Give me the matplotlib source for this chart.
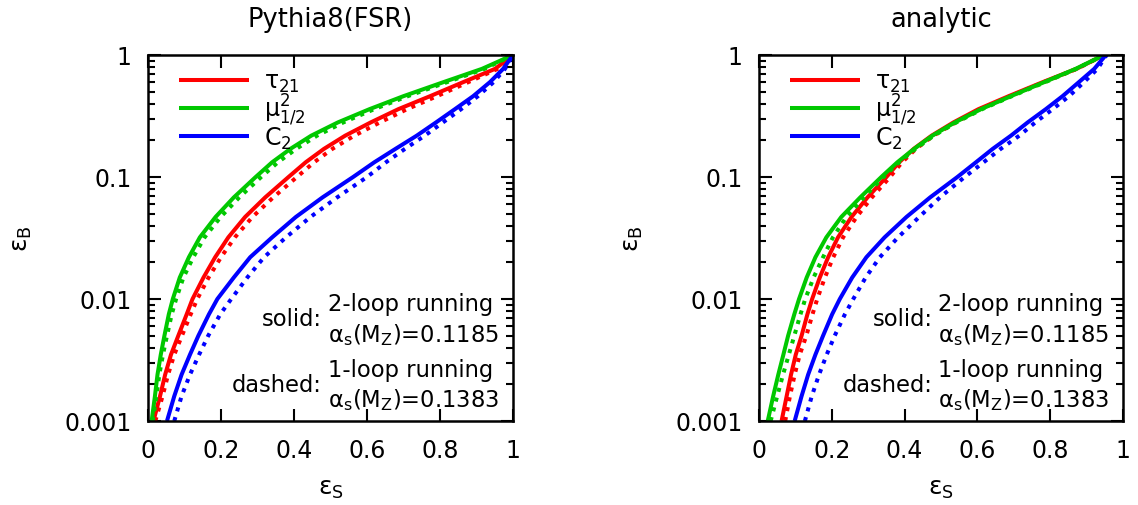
import matplotlib
matplotlib.use("Agg")
import matplotlib.pyplot as plt
from matplotlib.ticker import FixedLocator, FixedFormatter, LogLocator, NullFormatter

plt.rcParams['font.family'] = ['DejaVu Sans']
plt.rcParams['mathtext.default'] = 'regular'
plt.rcParams['font.size'] = 17

epsB = [0.001, 0.0016, 0.0024, 0.0035, 0.005, 0.0075, 0.01, 0.015, 0.022, 0.032, 0.047,
        0.068, 0.1, 0.132, 0.17, 0.218, 0.28, 0.36, 0.46, 0.6, 0.77, 1.0]

# Pythia8(FSR) panel
left_tau_solid = [0.015, 0.033, 0.047, 0.063, 0.083, 0.106, 0.122, 0.152, 0.184, 0.220, 0.266,
                  0.321, 0.385, 0.432, 0.482, 0.540, 0.610, 0.686, 0.773, 0.864, 0.951, 1.0]
left_tau_dash  = [0.020, 0.040, 0.055, 0.072, 0.093, 0.117, 0.135, 0.166, 0.200, 0.238, 0.286,
                  0.343, 0.408, 0.455, 0.505, 0.565, 0.635, 0.710, 0.792, 0.878, 0.958, 1.0]
left_mu_solid  = [0.010, 0.019, 0.026, 0.035, 0.045, 0.057, 0.068, 0.087, 0.112, 0.142, 0.185,
                  0.235, 0.295, 0.340, 0.390, 0.447, 0.520, 0.607, 0.700, 0.810, 0.915, 1.0]
left_mu_dash   = [0.013, 0.023, 0.031, 0.041, 0.052, 0.065, 0.077, 0.097, 0.124, 0.155, 0.199,
                  0.250, 0.310, 0.356, 0.406, 0.463, 0.535, 0.620, 0.712, 0.820, 0.922, 1.0]
left_c2_solid  = [0.052, 0.072, 0.092, 0.115, 0.138, 0.167, 0.190, 0.235, 0.280, 0.340, 0.405,
                  0.478, 0.562, 0.620, 0.678, 0.736, 0.789, 0.841, 0.891, 0.937, 0.973, 1.0]
left_c2_dash   = [0.072, 0.092, 0.115, 0.140, 0.165, 0.198, 0.228, 0.272, 0.318, 0.378, 0.445,
                  0.518, 0.600, 0.652, 0.704, 0.758, 0.808, 0.858, 0.904, 0.947, 0.978, 1.0]

# analytic panel
right_tau_solid = [0.062, 0.076, 0.088, 0.101, 0.117, 0.133, 0.146, 0.167, 0.190, 0.217, 0.254,
                   0.298, 0.350, 0.385, 0.425, 0.474, 0.534, 0.603, 0.686, 0.780, 0.872, 0.948]
right_tau_dash  = [0.072, 0.085, 0.098, 0.112, 0.130, 0.147, 0.160, 0.181, 0.204, 0.231, 0.268,
                   0.310, 0.360, 0.393, 0.431, 0.479, 0.540, 0.608, 0.690, 0.783, 0.873, 0.948]
right_mu_solid  = [0.024, 0.039, 0.053, 0.067, 0.080, 0.097, 0.110, 0.131, 0.155, 0.185, 0.226,
                   0.278, 0.336, 0.380, 0.426, 0.476, 0.538, 0.610, 0.692, 0.784, 0.870, 0.948]
right_mu_dash   = [0.032, 0.050, 0.066, 0.082, 0.097, 0.114, 0.127, 0.150, 0.176, 0.203, 0.240,
                   0.288, 0.342, 0.385, 0.430, 0.480, 0.542, 0.613, 0.695, 0.787, 0.872, 0.948]
right_c2_solid  = [0.098, 0.117, 0.135, 0.155, 0.176, 0.201, 0.222, 0.256, 0.295, 0.345, 0.405,
                   0.470, 0.545, 0.596, 0.642, 0.692, 0.738, 0.788, 0.834, 0.879, 0.921, 0.953]
right_c2_dash   = [0.126, 0.145, 0.165, 0.186, 0.208, 0.236, 0.259, 0.293, 0.332, 0.382, 0.440,
                   0.497, 0.565, 0.617, 0.664, 0.715, 0.759, 0.807, 0.852, 0.893, 0.930, 0.955]

titles = ["Pythia8(FSR)", "analytic"]
legend_labels = [r'$\tau_{21}$', r'$\mu^2_{1/2}$', r'$C_2$']
colors = ['#ff0000', '#00c800', '#0000ff']
xticks = [0, 0.2, 0.4, 0.6, 0.8, 1]
xticklabels = ['0', '0.2', '0.4', '0.6', '0.8', '1']
yticks = [0.001, 0.01, 0.1, 1]
yticklabels = ['0.001', '0.01', '0.1', '1']

fig = plt.figure(figsize=(11.38, 5.06), dpi=100)
ax1 = fig.add_axes([148/1138, 1-422/506, 365/1138, 366/506])
ax2 = fig.add_axes([759/1138, 1-422/506, 364/1138, 366/506])

panels = [
    (ax1, [(left_tau_solid, left_tau_dash), (left_mu_solid, left_mu_dash), (left_c2_solid, left_c2_dash)]),
    (ax2, [(right_tau_solid, right_tau_dash), (right_mu_solid, right_mu_dash), (right_c2_solid, right_c2_dash)]),
]

for (ax, curves), title in zip(panels, titles):
    handles = []
    for (sol, das), c, lab in zip(curves, colors, legend_labels):
        h, = ax.plot(sol, epsB, color=c, lw=2.9, solid_capstyle='butt', solid_joinstyle='round', label=lab)
        ax.plot(das, epsB, color=c, lw=2.9, linestyle=(0, (1.0, 1.5)))
        handles.append(h)
    ax.set_yscale('log')
    ax.set_xlim(0, 1)
    ax.set_ylim(0.001, 1)
    ax.xaxis.set_major_locator(FixedLocator(xticks))
    ax.xaxis.set_major_formatter(FixedFormatter(xticklabels))
    ax.yaxis.set_major_locator(FixedLocator(yticks))
    ax.yaxis.set_major_formatter(FixedFormatter(yticklabels))
    ax.yaxis.set_minor_locator(LogLocator(base=10, subs=range(2, 10)))
    ax.yaxis.set_minor_formatter(NullFormatter())
    ax.tick_params(which='both', direction='in', top=True, right=True, width=1.5)
    ax.tick_params(which='major', length=9, pad=12, labelsize=17)
    ax.tick_params(which='minor', length=5)
    for s in ax.spines.values():
        s.set_linewidth(1.8)
    ax.set_title(title, fontsize=18.5, pad=21)
    ax.set_xlabel(r'$ε_S$', fontsize=18, labelpad=10)
    ax.set_ylabel(r'$ε_B$', fontsize=18, labelpad=22)
    ax.legend(handles=handles, loc='upper left', bbox_to_anchor=(0.045, 1.0), frameon=False,
              handlelength=3.0, handletextpad=0.63, labelspacing=-0.1, fontsize=17, borderaxespad=0.2)
    tx = 0.477
    fs = 16.3
    ax.text(tx, 0.279, 'solid:', ha='right', va='center', fontsize=fs, transform=ax.transAxes)
    ax.text(tx + 0.016, 0.32, '2-loop running', ha='left', va='center', fontsize=fs, transform=ax.transAxes)
    ax.text(tx + 0.016, 0.238, r'$α_s(M_Z)$=0.1185', ha='left', va='center', fontsize=fs, transform=ax.transAxes)
    ax.text(tx, 0.101, 'dashed:', ha='right', va='center', fontsize=fs, transform=ax.transAxes)
    ax.text(tx + 0.016, 0.142, '1-loop running', ha='left', va='center', fontsize=fs, transform=ax.transAxes)
    ax.text(tx + 0.016, 0.06, r'$α_s(M_Z)$=0.1383', ha='left', va='center', fontsize=fs, transform=ax.transAxes)

fig.savefig('out.png', dpi=100)
